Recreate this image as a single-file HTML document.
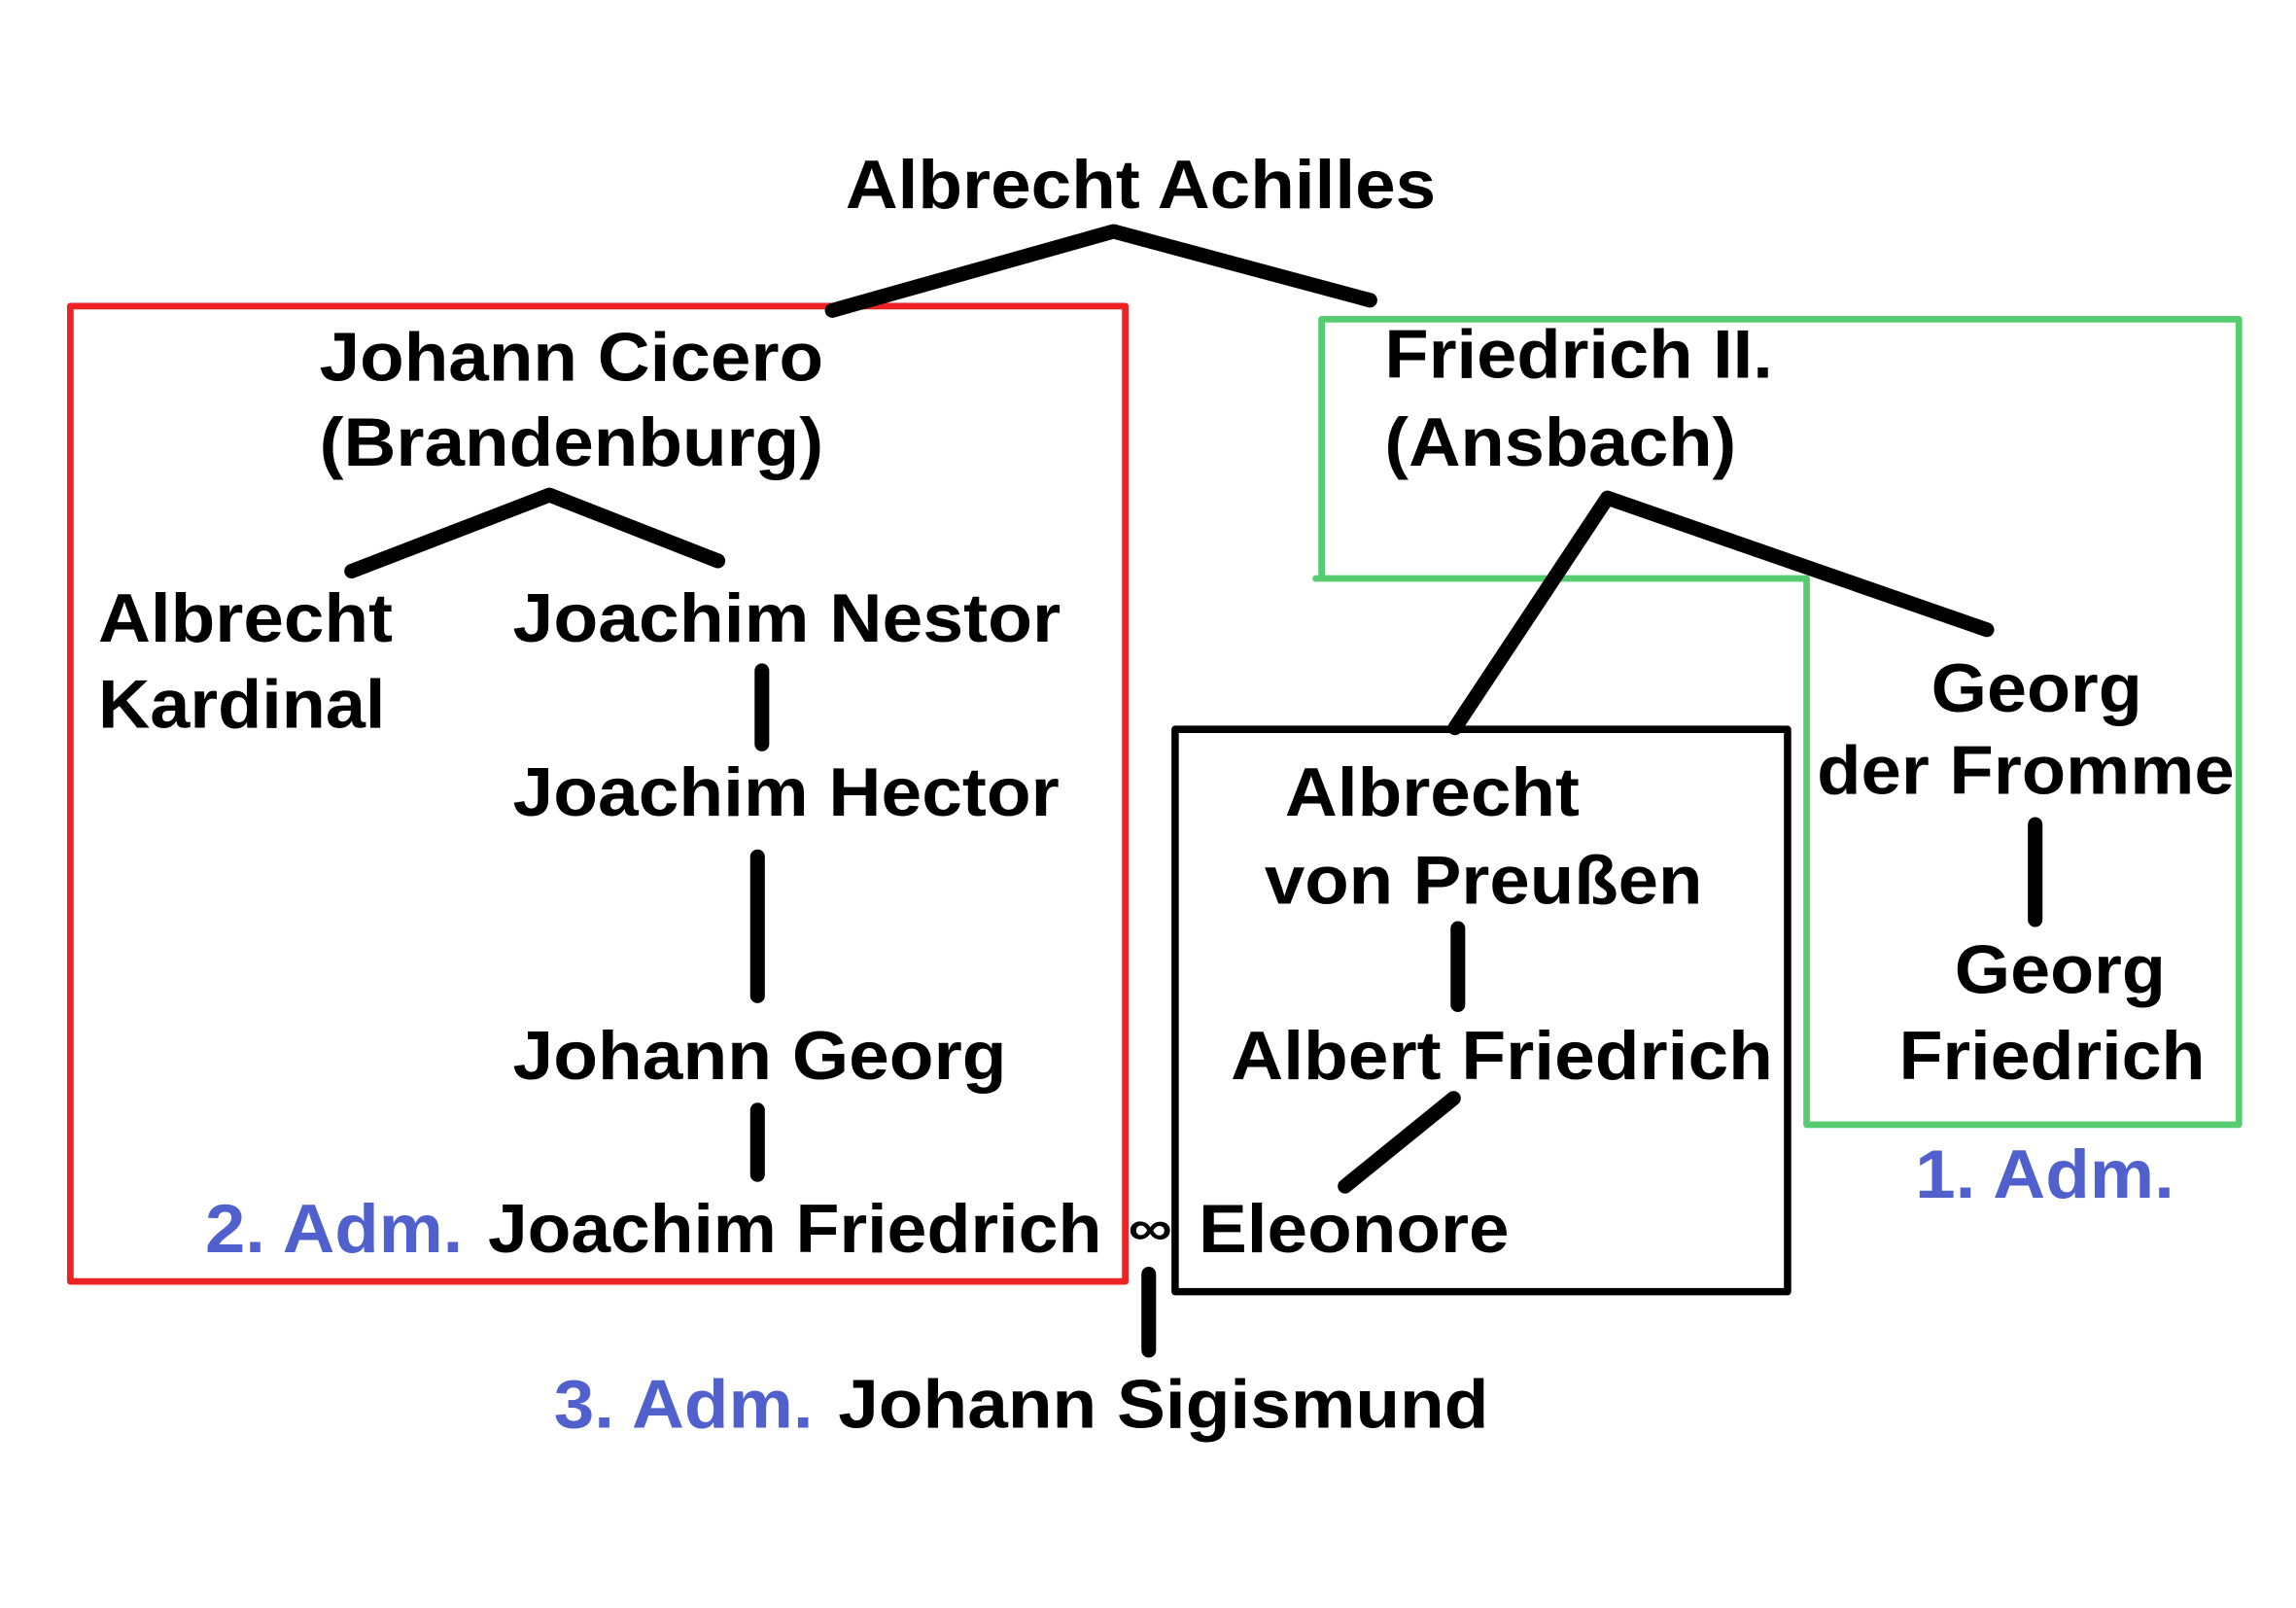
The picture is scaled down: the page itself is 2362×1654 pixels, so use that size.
<!DOCTYPE html>
<html><head><meta charset="utf-8"><style>
html,body{margin:0;padding:0;background:#fff;}
svg{display:block;}
text{font-family:"Liberation Sans",Arial,sans-serif;font-weight:bold;font-size:47px;fill:#000;}
.b{fill:#5060cc;}
</style></head><body>
<svg width="2362" height="1654" viewBox="0 0 1567 1098" preserveAspectRatio="none" xmlns="http://www.w3.org/2000/svg">
<rect width="1567" height="1098" fill="#fff"/>
<g fill="none" stroke-linecap="round" stroke-linejoin="round">
<rect x="48" y="209" width="720" height="666" stroke="#ee2222" stroke-width="4.5"/>
<path d="M902 395 L902 218 L1528 218 L1528 768 L1233 768 L1233 395 L898 395" stroke="#55cc70" stroke-width="4.5"/>
<rect x="802" y="498" width="418" height="384" stroke="#000" stroke-width="5"/>
<g stroke="#000" stroke-width="10">
<path d="M568 212 L760 158 L935 205"/>
<path d="M240 390 L375 338 L490 383"/>
<path d="M520 458 L520 508"/>
<path d="M517 585 L517 680"/>
<path d="M517 758 L517 802"/>
<path d="M784 870 L784 922"/>
<path d="M993 497 L1097 340 L1356 430"/>
<path d="M1389 563 L1389 628"/>
<path d="M995 634 L995 686"/>
<path d="M992 750 L918 810"/>
</g>
</g>
<text x="577" y="142" textLength="403" lengthAdjust="spacingAndGlyphs">Albrecht Achilles</text>
<text x="218" y="260" textLength="344" lengthAdjust="spacingAndGlyphs">Johann Cicero</text>
<text x="218" y="318" textLength="344" lengthAdjust="spacingAndGlyphs">(Brandenburg)</text>
<text x="67" y="438" textLength="201" lengthAdjust="spacingAndGlyphs">Albrecht</text>
<text x="67" y="497" textLength="196" lengthAdjust="spacingAndGlyphs">Kardinal</text>
<text x="350" y="438" textLength="374" lengthAdjust="spacingAndGlyphs">Joachim Nestor</text>
<text x="350" y="557" textLength="373" lengthAdjust="spacingAndGlyphs">Joachim Hector</text>
<text x="350" y="737" textLength="337" lengthAdjust="spacingAndGlyphs">Johann Georg</text>
<text class="b" x="140" y="855" textLength="176" lengthAdjust="spacingAndGlyphs">2. Adm.</text>
<text x="333" y="855" textLength="197" lengthAdjust="spacingAndGlyphs">Joachim</text>
<text x="543" y="855" textLength="209" lengthAdjust="spacingAndGlyphs">Friedrich</text>
<text x="770" y="850" style="font-size:34px" textLength="30" lengthAdjust="spacingAndGlyphs">∞</text>
<text x="818" y="855" textLength="212" lengthAdjust="spacingAndGlyphs">Eleonore</text>
<text class="b" x="378" y="975" textLength="177" lengthAdjust="spacingAndGlyphs">3. Adm.</text>
<text x="572" y="975" textLength="444" lengthAdjust="spacingAndGlyphs">Johann Sigismund</text>
<text x="945" y="258" textLength="265" lengthAdjust="spacingAndGlyphs">Friedrich II.</text>
<text x="945" y="318" textLength="240" lengthAdjust="spacingAndGlyphs">(Ansbach)</text>
<text x="1318" y="486" textLength="144" lengthAdjust="spacingAndGlyphs">Georg</text>
<text x="1240" y="542" textLength="285" lengthAdjust="spacingAndGlyphs">der Fromme</text>
<text x="1334" y="678" textLength="144" lengthAdjust="spacingAndGlyphs">Georg</text>
<text x="1296" y="737" textLength="209" lengthAdjust="spacingAndGlyphs">Friedrich</text>
<text class="b" x="1307" y="818" textLength="177" lengthAdjust="spacingAndGlyphs">1. Adm.</text>
<text x="877" y="557" textLength="201" lengthAdjust="spacingAndGlyphs">Albrecht</text>
<text x="863" y="617" textLength="299" lengthAdjust="spacingAndGlyphs">von Preußen</text>
<text x="840" y="737" textLength="370" lengthAdjust="spacingAndGlyphs">Albert Friedrich</text>
</svg>
</body></html>
